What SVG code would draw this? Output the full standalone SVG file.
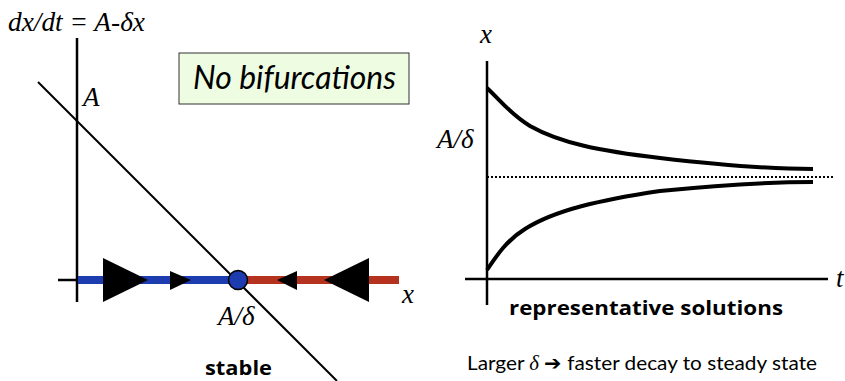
<svg xmlns="http://www.w3.org/2000/svg" width="845" height="381" viewBox="0 0 845 381">
<style>
.ser{font-family:"Liberation Serif","Times New Roman",serif;font-style:italic;font-size:27px;fill:#000}
.sans{font-family:"Open Sans",Lato,sans-serif;fill:#000}
.ax{stroke:#000;stroke-width:2.5;fill:none}
.crv{stroke:#000;stroke-width:4;fill:none;stroke-linecap:butt}
</style>
<rect width="845" height="381" fill="#fff"/>
<g id="left-plot">
  <line class="ax" x1="77" y1="38" x2="77" y2="302"/>
  <line class="ax" x1="58" y1="280" x2="80" y2="280"/>
  <line x1="38" y1="82" x2="337" y2="381" stroke="#000" stroke-width="2"/>
  <line x1="78" y1="280" x2="238" y2="280" stroke="#1c3cb0" stroke-width="8"/>
  <line x1="238" y1="280" x2="399" y2="280" stroke="#b5321e" stroke-width="8"/>
  <polygon points="103,258 148,280 103,302" fill="#000"/>
  <polygon points="170,271 191,280 170,290" fill="#000"/>
  <polygon points="297,271 277,280 297,290" fill="#000"/>
  <polygon points="369,258 324,280 369,302" fill="#000"/>
  <circle cx="238" cy="280" r="9.5" fill="#1c3cb0" stroke="#000" stroke-width="1.5"/>
  <text class="ser" x="8" y="31" textLength="137" lengthAdjust="spacingAndGlyphs">dx/dt = A-δx</text>
  <text class="ser" x="83" y="106">A</text>
  <text class="ser" x="402" y="303">x</text>
  <text class="ser" x="218" y="325">A/δ</text>
  <text class="sans" x="205" y="375" font-size="19" font-weight="bold" textLength="67" lengthAdjust="spacingAndGlyphs">stable</text>
</g>
<g id="label-box">
  <rect x="179" y="53" width="230" height="51" fill="#eefce2" stroke="#333" stroke-width="1"/>
  <text x="193" y="89" font-family="Lato,'Open Sans',sans-serif" font-size="32" font-style="italic" textLength="203" lengthAdjust="spacingAndGlyphs">No bifurcations</text>
</g>
<g id="right-plot">
  <line class="ax" x1="487" y1="61" x2="487" y2="305"/>
  <line class="ax" x1="465" y1="279" x2="828" y2="279"/>
  <line x1="487" y1="177" x2="834" y2="177" stroke="#000" stroke-width="2" stroke-dasharray="2 2"/>
  <path class="crv" d="M487,88 C500,100 510,114 530,126 C560,143 600,151 660,158 C720,165 770,169 813,169"/>
  <path class="crv" d="M487,270 C497,255 507,240 525,229 C555,210 600,200 660,191 C720,185 770,182 813,182"/>
  <text class="ser" x="480" y="43">x</text>
  <text class="ser" x="437" y="148">A/δ</text>
  <text class="ser" x="836" y="287">t</text>
  <text class="sans" x="509" y="315" font-size="20" font-weight="bold" textLength="274" lengthAdjust="spacingAndGlyphs">representative solutions</text>
  <text x="467" y="370" font-family="Lato,'Open Sans',sans-serif" font-size="20" textLength="350" lengthAdjust="spacingAndGlyphs">Larger <tspan font-family="Liberation Serif,serif" font-style="italic">δ</tspan> ➔ faster decay to steady state</text>
</g>
</svg>
